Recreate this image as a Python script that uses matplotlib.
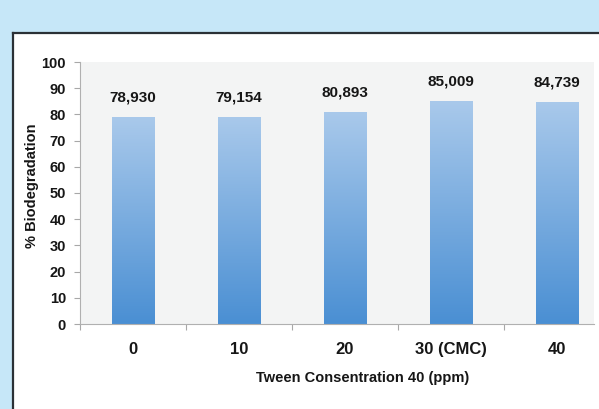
import numpy as np
import matplotlib
matplotlib.use("Agg")
import matplotlib.pyplot as plt
from matplotlib.patches import Rectangle
from matplotlib.lines import Line2D
from matplotlib.colors import LinearSegmentedColormap

# Data
categories = ["0", "10", "20", "30 (CMC)", "40"]
biodegradation = [78.930, 79.154, 80.893, 85.009, 84.739]
y_ticks = [0, 10, 20, 30, 40, 50, 60, 70, 80, 90, 100]

plt.rcParams["font.family"] = ["Liberation Sans", "DejaVu Sans"]
plt.rcParams["font.weight"] = "bold"

W, H = 599, 409
fig = plt.figure(figsize=(W / 100, H / 100), dpi=100)
fig.patch.set_facecolor("#c6e7f8")

# White panel with dark frame on top and left
panel_left = 13 / W
panel_top = (H - 33) / H
fig.patches.append(Rectangle((panel_left, 0), 1 - panel_left, panel_top,
                             transform=fig.transFigure, facecolor="white",
                             edgecolor="none", zorder=-10))
fig.lines.append(Line2D([panel_left, 1], [panel_top, panel_top],
                        transform=fig.transFigure, color="#2b3136", lw=1.6, zorder=-5))
fig.lines.append(Line2D([panel_left, panel_left], [0, panel_top],
                        transform=fig.transFigure, color="#2b3136", lw=1.6, zorder=-5))

ax = fig.add_axes([80 / W, (H - 324) / H, (594 - 80) / W, (324 - 62) / H])
ax.set_zorder(1)
ax.set_facecolor("#f3f4f4")

x = np.arange(len(categories))
bars = ax.bar(x, biodegradation, width=0.4, color="none", edgecolor="none", zorder=2)

# Vertical gradient fill for each bar
grad = np.linspace(0, 1, 256).reshape(-1, 1)
cmap = LinearSegmentedColormap.from_list("bar", ["#4a8fd3", "#a9c9eb"])
for b in bars:
    x0, y0 = b.get_x(), b.get_y()
    w, h = b.get_width(), b.get_height()
    im = ax.imshow(grad, extent=[x0, x0 + w, y0, y0 + h], origin="lower",
                   cmap=cmap, aspect="auto", zorder=2)
    im.set_clip_path(b)

for xi, v in zip(x, biodegradation):
    ax.annotate(f"{v:.3f}".replace(".", ","), (xi, v), xytext=(0, 9),
                textcoords="offset points", ha="center", va="bottom",
                fontsize=11, fontweight="bold", color="#161616")

ax.set_xlim(-0.5, 4.35)
ax.set_ylim(0, 100)
ax.set_yticks(y_ticks)
ax.set_yticklabels([str(t) for t in y_ticks])
ax.set_xticks(x)
ax.set_xticklabels(categories)
ax.set_xticks([-0.5, 0.5, 1.5, 2.5, 3.5], minor=True)

ax.tick_params(axis="x", which="major", length=0, pad=13, labelsize=12, labelcolor="#161616")
ax.tick_params(axis="x", which="minor", length=4, color="#a8a8a8", width=0.8)
ax.tick_params(axis="y", length=4, color="#a8a8a8", width=0.8, pad=6,
               labelsize=10.5, labelcolor="#161616")

for s in ["top", "right"]:
    ax.spines[s].set_visible(False)
for s in ["left", "bottom"]:
    ax.spines[s].set_color("#b0b0b0")
    ax.spines[s].set_linewidth(0.8)

ax.set_xlabel("Tween Consentration 40 (ppm)", fontsize=10.5, fontweight="bold",
              color="#161616")
ax.xaxis.set_label_coords(0.55, -0.179)
ax.set_ylabel("% Biodegradation", fontsize=10.5, fontweight="bold",
              color="#161616")
ax.yaxis.set_label_coords(-0.079, 0.527)

fig.savefig("out.png", dpi=100)
